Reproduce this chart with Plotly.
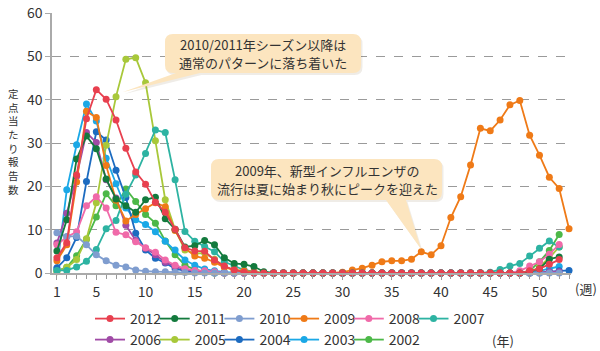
import plotly.graph_objects as go

# ---------------- data ----------------
years = ["2012", "2011", "2010", "2009", "2008", "2007", "2006", "2005", "2004", "2003", "2002"]
colors = ["#e8404f", "#137a3d", "#7f9dcf", "#ef7a17", "#f06aa9", "#2db3a2",
          "#a04ba6", "#a8c83a", "#1c6bc0", "#1ba8e6", "#4cb848"]

def season(early, late, n=52):
    """early: values from week 1; late: values ending at week n; zeros in between"""
    vals = [0.0] * n
    for i, v in enumerate(early):
        vals[i] = v
    for i, v in enumerate(late):
        vals[n - len(late) + i] = v
    return vals

v2012 = season([3.5, 7.0, 22.6, 35.6, 42.3, 40.1, 35.3, 28.8, 23.3, 20.5, 16.3, 14.0, 10.1, 5.8, 5.1, 5.0, 3.0, 1.6, 0.7, 0.2],
               [0.5, 1.0, 2.0, 3.1])
v2011 = season([5.1, 12.3, 26.3, 31.6, 28.7, 21.7, 17.1, 15.5, 14.0, 16.9, 17.5, 12.5, 10.1, 6.0, 6.3, 7.5, 6.5, 3.5, 2.2, 2.0, 1.5, 0.3],
               [0.3, 1.0, 3.2, 3.7])
v2010 = season([9.3, 8.4, 8.5, 6.5, 4.2, 2.8, 1.8, 1.4, 0.7, 0.4, 0.3, 0.3, 0.2, 0.1], [])
v2009 = season([2.8, 6.5, 21.0, 37.3, 35.9, 24.8, 16.8, 12.0, 13.5, 14.8, 16.2, 15.3, 9.8, 5.8, 3.9, 3.4, 2.5, 1.3, 0.8, 0.5, 0.3],
               [0.2, 0.7, 1.1, 1.8, 2.6, 2.8, 2.8, 3.2, 4.9, 4.2, 6.3, 12.8, 17.6, 24.9, 33.4, 32.8, 35.3, 38.8, 39.8,
                31.8, 27.2, 22.1, 19.5, 10.2], n=53)
v2008 = season([6.5, 8.3, 9.5, 15.5, 17.6, 15.0, 9.4, 8.8, 7.2, 5.8, 4.8, 3.0, 1.8, 1.0, 0.6, 0.5, 0.3],
               [0.5, 1.6, 2.6, 4.3, 6.6])
v2007 = season([0.6, 0.6, 1.4, 2.7, 5.4, 10.2, 12.1, 18.2, 22.6, 27.6, 33.0, 32.4, 21.5, 9.6, 7.3, 6.1, 4.9, 2.6, 1.6, 0.7, 0.3],
               [0.2, 0.8, 1.6, 2.2, 3.9, 5.7, 7.4, 6.0])
v2006 = season([6.9, 13.8, 22.3, 32.4, 30.1, 21.5, 17.3, 11.0, 7.5, 5.7, 4.2, 2.5, 1.5, 0.8, 0.5, 0.3, 0.2],
               [0.2, 0.3, 0.3])
v2005 = season([0.3, 1.3, 3.1, 7.9, 16.2, 29.5, 40.7, 49.3, 49.7, 43.9, 30.5, 16.9, 10.0, 5.3, 4.5, 4.6, 3.2, 1.5, 0.6, 0.2],
               [1.5, 3.5, 6.0])
v2004 = season([1.2, 3.5, 8.2, 21.1, 32.6, 30.7, 23.7, 17.4, 9.2, 5.3, 3.4, 2.3, 1.0, 0.5, 0.3, 0.2],
               [0.3, 0.5, 0.6], n=53)
v2003 = season([0.9, 19.2, 29.6, 39.0, 35.1, 26.5, 20.6, 15.0, 12.3, 11.2, 9.5, 7.3, 5.3, 3.0, 1.8, 0.9, 0.5, 0.2],
               [0.5, 1.0, 1.5])
v2002 = season([0.5, 1.3, 4.0, 7.8, 12.9, 18.3, 15.5, 19.4, 16.5, 13.5, 11.5, 7.4, 4.2, 1.8, 0.8, 0.3],
               [0.5, 2.6, 5.2, 8.9])

series = [v2012, v2011, v2010, v2009, v2008, v2007, v2006, v2005, v2004, v2003, v2002]
x_ticks = [1, 5, 10, 15, 20, 25, 30, 35, 40, 45, 50]
y_ticks = [0, 10, 20, 30, 40, 50, 60]
y_title = "定点当たり報告数"
note1 = ["2010/2011年シーズン以降は", "通常のパターンに落ち着いた"]
note2 = ["2009年、新型インフルエンザの", "流行は夏に始まり秋にピークを迎えた"]

# ---------------- layout geometry ----------------
W, H = 600, 351
L, R, T, B = 52, 29, 13, 78
PW, PH = W - L - R, H - T - B
FONT = "Noto Sans CJK JP, Noto Sans, sans-serif"
TXT = "#333333"

def px(x):
    return (x - L) / PW

def py(y):
    return (T + PH - y) / PH

fig = go.Figure()

ENTRY = 64.7 / PW  # legend entry width as a fraction of the plot width

# draw oldest first so 2012 ends on top
for i in reversed(range(len(years))):
    vals = series[i]
    last_in_row = i in (5, 10)
    fig.add_trace(go.Scatter(
        x=list(range(1, len(vals) + 1)), y=vals, name=years[i],
        mode="lines+markers",
        line=dict(color=colors[i], width=1.8),
        marker=dict(color=colors[i], size=7),
        cliponaxis=False,
        legend="legend" if i < 6 else "legend2",
        legendwidth=0.17 if last_in_row else ENTRY,
    ))

def callout_path(x0, y0, x1, y1, r, bx0, bx1, tx, ty, dx=0, dy=0):
    pts = []
    def P(cmd, *xy):
        s = cmd
        for k in range(0, len(xy), 2):
            s += f" {px(xy[k] + dx):.5f},{py(xy[k + 1] + dy):.5f}"
        pts.append(s)
    P("M", x0 + r, y0)
    P("L", x1 - r, y0)
    P("Q", x1, y0, x1, y0 + r)
    P("L", x1, y1 - r)
    P("Q", x1, y1, x1 - r, y1)
    P("L", bx1, y1)
    P("L", tx, ty)
    P("L", bx0, y1)
    P("L", x0 + r, y1)
    P("Q", x0, y1, x0, y1 - r)
    P("L", x0, y0 + r)
    P("Q", x0, y0, x0 + r, y0)
    return " ".join(pts) + " Z"

LINE_GAP = 18.8
boxes = [
    dict(geom=(165, 34, 361, 73, 8, 176, 200, 123, 92), lines=note1, cy=53.5, cx=263),
    dict(geom=(211, 159, 442, 200, 8, 386, 406, 421, 249), lines=note2, cy=179.5, cx=327),
]
shapes = []
annotations = []
for b in boxes:
    g = b["geom"]
    shapes.append(dict(type="path", path=callout_path(*g, dx=1.5, dy=2), xref="paper", yref="paper",
                       fillcolor="rgba(120,100,60,0.12)", line=dict(width=0), layer="above"))
    shapes.append(dict(type="path", path=callout_path(*g), xref="paper", yref="paper",
                       fillcolor="#fce5bf", line=dict(width=0), layer="above"))
    n = len(b["lines"])
    for k, t in enumerate(b["lines"]):
        yy = b["cy"] + (k - (n - 1) / 2) * LINE_GAP
        annotations.append(dict(text=t, x=px(b["cx"]), y=py(yy), xref="paper", yref="paper",
                                showarrow=False, xanchor="center", yanchor="middle",
                                font=dict(size=13, color=TXT, family=FONT)))

# vertical y-axis title (one character per line)
annotations.append(dict(text="<br>".join(y_title), x=px(13), y=py(141), xref="paper", yref="paper",
                        showarrow=False, xanchor="center", yanchor="middle", align="center",
                        font=dict(size=10.5, color=TXT, family=FONT)))
annotations.append(dict(text="(週)", x=px(586), y=py(288), xref="paper", yref="paper", showarrow=False,
                        xanchor="center", yanchor="middle", font=dict(size=13, color=TXT, family=FONT)))
annotations.append(dict(text="(年)", x=px(503), y=py(340), xref="paper", yref="paper", showarrow=False,
                        xanchor="center", yanchor="middle", font=dict(size=13, color=TXT, family=FONT)))

legend_common = dict(orientation="h", traceorder="reversed", xanchor="left", yanchor="middle",
                     font=dict(size=14, color=TXT, family=FONT), bgcolor="rgba(0,0,0,0)",
                     itemwidth=30, entrywidthmode="fraction", tracegroupgap=0,
                     itemclick=False, itemdoubleclick=False)

fig.update_layout(
    width=W, height=H,
    margin=dict(l=L, r=R, t=T, b=B, pad=0, autoexpand=False),
    paper_bgcolor="white", plot_bgcolor="white",
    font=dict(family=FONT, color=TXT, size=14),
    showlegend=True,
    legend=dict(x=px(90), y=py(319), **legend_common),
    legend2=dict(x=px(90), y=py(340), **legend_common),
    xaxis=dict(range=[0.5, 53.2], tickvals=x_ticks, ticks="outside", ticklen=5, tickcolor="#999999",
               showline=True, linecolor="#aaaaaa", linewidth=1.5, showgrid=False, zeroline=False,
               tickfont=dict(size=14, color=TXT),
               minor=dict(tickvals=list(range(1, 54)), ticks="outside", ticklen=4, tickcolor="#999999")),
    yaxis=dict(range=[0, 60], tickvals=y_ticks, ticks="outside", ticklen=5, tickcolor="#aaaaaa",
               showline=True, linecolor="#aaaaaa", linewidth=1.5, zeroline=False,
               showgrid=True, gridcolor="#9a9a9a", griddash="dash", gridwidth=1,
               tickfont=dict(size=14, color=TXT)),
    shapes=shapes,
    annotations=annotations,
)

fig.write_html("out.html")
